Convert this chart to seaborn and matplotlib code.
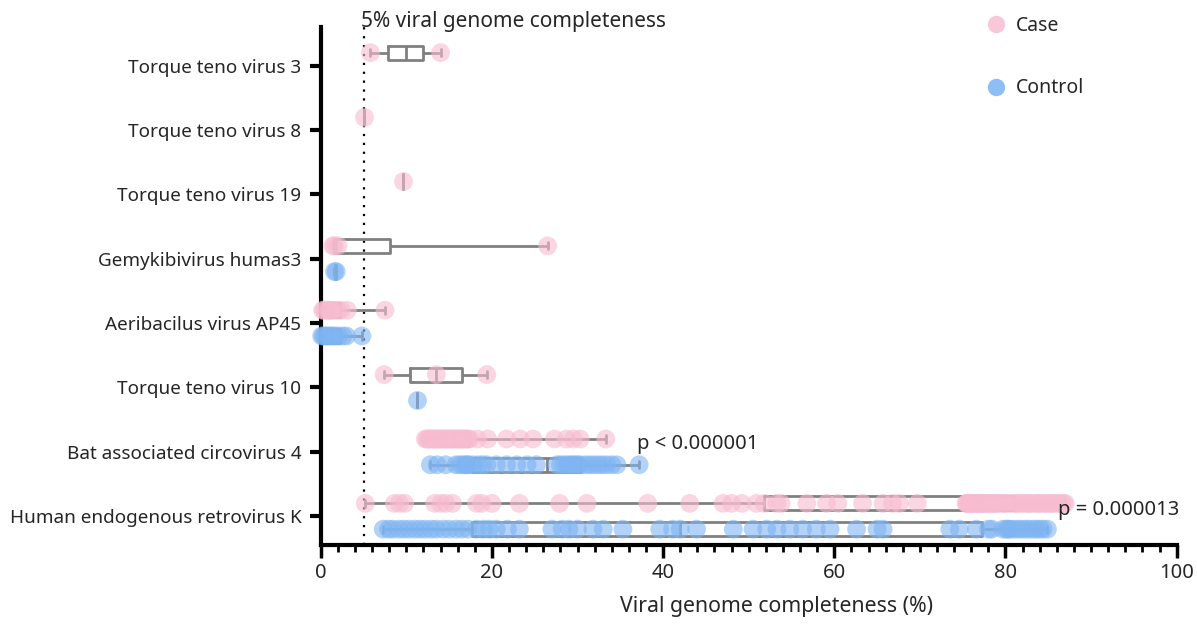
import pandas as pd
import matplotlib
matplotlib.use('Agg')
import matplotlib.pyplot as plt
import seaborn as sns
from matplotlib.lines import Line2D
from matplotlib.ticker import MultipleLocator

# Categories
viruses = ['Torque teno virus 3', 'Torque teno virus 8', 'Torque teno virus 19',
           'Gemykibivirus humas3', 'Aeribacilus virus AP45', 'Torque teno virus 10',
           'Bat associated circovirus 4', 'Human endogenous retrovirus K']
groups = ['Case', 'Control']

# Viral genome completeness (%) per sample
ttv3_case = [5.8, 14.0]
ttv8_case = [5.1]
ttv19_case = [9.6]
gemy_case = [1.4, 1.6, 2.0, 26.5]
gemy_control = [1.6, 1.8]
aeri_case = [0.2, 0.4, 0.6, 0.9, 1.1, 1.3, 1.6, 2.0, 2.4, 3.1, 7.5]
aeri_control = [0.1, 0.3, 0.5, 0.7, 0.9, 1.2, 1.4, 1.7, 2.1, 2.6, 3.0, 4.8]
ttv10_case = [7.4, 13.5, 19.4]
ttv10_control = [11.2]
bat_case = [12.2, 12.4, 12.6, 12.7, 12.9, 13.1, 13.2, 13.4, 13.6, 13.7, 13.9,
            14.1, 14.2, 14.4, 14.6, 14.7, 14.9, 15.1, 15.2, 15.4, 15.5, 15.7,
            15.9, 16.0, 16.2, 16.4, 16.5, 16.7, 16.9, 17.0, 17.2, 17.4,
            18.3, 19.5, 21.7, 23.3, 24.8, 27.3, 28.7, 29.5, 30.3, 33.3]
bat_control = [12.8, 13.6, 14.6, 15.8, 16.2, 16.6, 16.9, 17.1, 17.3, 17.8, 18.4,
               18.9, 19.4, 20.5, 21.7, 22.9, 24.1, 25.2, 27.6, 28.0, 28.4, 28.8,
               29.1, 29.4, 29.7, 30.0, 30.3, 30.9, 31.4, 31.9, 32.4, 32.9, 33.4,
               34.0, 34.6, 37.2]
herv_case = [5.2, 8.6, 9.2, 9.8, 13.3, 14.0, 14.6, 15.4, 18.2, 18.8, 20.0, 23.2,
             27.9, 31.1, 38.2, 43.1, 47.0, 48.0, 49.2, 50.9,
             51.8, 53.3, 53.8, 56.8, 59.1, 60.4, 63.3, 65.7, 66.8, 67.6, 69.7,
             75.4, 75.5, 75.6, 75.8, 75.9, 76.0, 76.1, 76.2, 76.4, 76.5, 76.6,
             76.8, 76.9, 77.1, 77.2, 77.4, 77.5, 77.7, 77.9, 78.1, 78.3, 78.5,
             78.7, 79.0, 79.2, 79.6, 79.9, 80.1, 80.6, 81.0, 81.3, 81.5, 81.9,
             82.2, 82.6, 82.8, 83.1, 83.5, 83.8, 84.0, 84.4, 84.7, 85.0, 85.3,
             85.5, 85.9, 86.2, 86.5, 86.8, 87.0]
herv_control = [7.3, 7.9, 8.4, 9.1, 9.7, 10.3, 11.0, 11.6, 12.2, 12.9, 13.5,
                14.3, 15.0, 15.8, 16.5, 17.2,
                18.2, 19.0, 19.7, 20.5, 21.8, 23.2, 27.0, 28.2, 29.0, 30.0, 31.8,
                33.0, 35.3, 39.6, 41.1, 42.0, 43.9, 48.2, 50.5, 52.1, 53.3, 54.8,
                56.3, 57.9, 59.5, 62.6, 65.0, 65.7, 73.5, 74.6, 76.6, 78.0,
                78.4, 79.7, 80.1, 80.3, 80.5, 80.9, 81.4, 81.8, 82.3, 82.7, 83.2,
                83.6, 84.0, 84.4, 84.9]

# Build a long table for seaborn
samples = [(viruses[0], 'Case', ttv3_case), (viruses[1], 'Case', ttv8_case),
           (viruses[2], 'Case', ttv19_case), (viruses[3], 'Case', gemy_case),
           (viruses[3], 'Control', gemy_control), (viruses[4], 'Case', aeri_case),
           (viruses[4], 'Control', aeri_control), (viruses[5], 'Case', ttv10_case),
           (viruses[5], 'Control', ttv10_control), (viruses[6], 'Case', bat_case),
           (viruses[6], 'Control', bat_control), (viruses[7], 'Case', herv_case),
           (viruses[7], 'Control', herv_control)]
df = pd.DataFrame([{'virus': v, 'group': g, 'completeness': x}
                   for v, g, vals in samples for x in vals])

sns.set_style('white')
plt.rcParams['font.family'] = ['Noto Sans', 'DejaVu Sans']

fig = plt.figure(figsize=(11.97, 6.26), dpi=100)
ax = fig.add_axes([0.268, 0.129, 0.715, 0.828])

# Boxes with whiskers from min to max
sns.boxplot(data=df, x='completeness', y='virus', hue='group', order=viruses,
            hue_order=groups, orient='h', whis=(0, 100), fill=False,
            palette={'Case': '#808080', 'Control': '#808080'}, width=0.8, gap=0.45,
            linewidth=2, showfliers=False, legend=False, ax=ax)

# Individual samples
sns.stripplot(data=df, x='completeness', y='virus', hue='group', order=viruses,
              hue_order=groups, orient='h', dodge=True, jitter=False,
              palette={'Case': '#F7BCD0', 'Control': '#7FB5F2'}, size=13.5,
              alpha=0.6, linewidth=0, legend=False, ax=ax, zorder=3)
for coll in ax.collections:
    coll.set_clip_on(False)

# 5% threshold
ax.axvline(5, color='black', linestyle=(0, (1, 3)), linewidth=1.6, zorder=1)
ax.text(4.7, -0.69, '5% viral genome completeness', fontsize=15, va='center',
        ha='left', clip_on=False)

# p-values
ax.text(36.9, 5.88, 'p < 0.000001', fontsize=14.5, va='center', ha='left')
ax.text(86.1, 6.9, 'p = 0.000013', fontsize=14.5, va='center', ha='left')

ax.set_xlim(0, 100)
ax.set_ylim(7.45, -0.6)
ax.xaxis.set_major_locator(MultipleLocator(20))
ax.xaxis.set_minor_locator(MultipleLocator(2))
ax.tick_params(axis='x', which='major', direction='out', length=9, width=2.5,
               labelsize=14.5, bottom=True, color='black')
ax.tick_params(axis='x', which='minor', direction='out', length=5, width=2,
               bottom=True, color='black')
ax.tick_params(axis='y', which='major', direction='out', length=8, width=3,
               labelsize=13.6, left=True, color='black', pad=6)
ax.set_xlabel('Viral genome completeness (%)', fontsize=15.3)
ax.xaxis.set_label_coords(0.533, -0.098)
ax.set_ylabel('')
sns.despine(ax=ax)
for side in ['left', 'bottom']:
    ax.spines[side].set_linewidth(3)
    ax.spines[side].set_color('black')

# Legend
handles = [Line2D([], [], marker='o', linestyle='', markersize=12.5,
                  markerfacecolor='#F9C8D8', markeredgewidth=0),
           Line2D([], [], marker='o', linestyle='', markersize=12.5,
                  markerfacecolor='#8DBEF5', markeredgewidth=0)]
fig.legend(handles, groups, loc='upper left', bbox_to_anchor=(0.824, 0.975),
           frameon=False, fontsize=14, labelspacing=2.2, handlelength=1,
           handletextpad=0.5, borderpad=0, borderaxespad=0)

fig.savefig('out.png', dpi=100)
